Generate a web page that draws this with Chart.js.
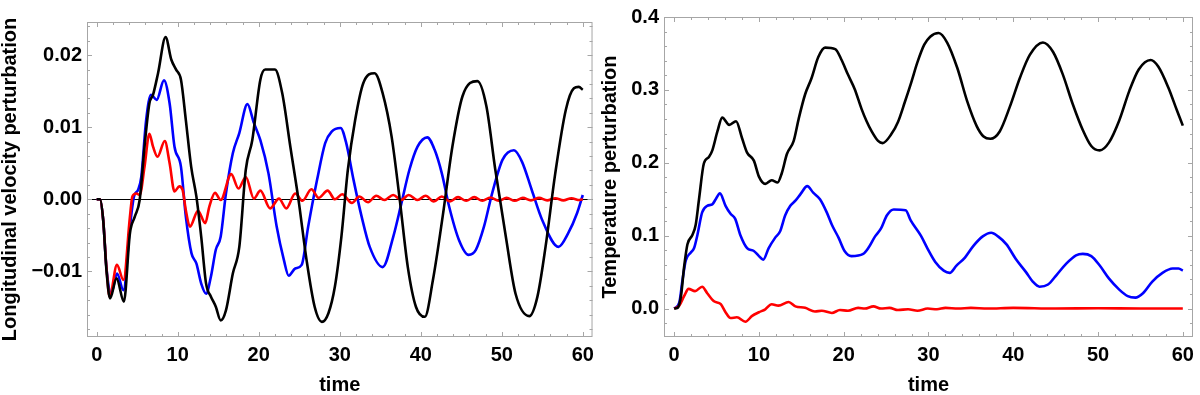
<!DOCTYPE html>
<html><head><meta charset="utf-8">
<script src="https://cdn.jsdelivr.net/npm/chart.js@4"></script>
<style>
html,body{margin:0;padding:0;background:#fff;}
#wrap{position:relative;width:1200px;height:395px;overflow:hidden;background:#fff;}
canvas{position:absolute;top:0;}
</style></head><body>
<div id="wrap">
<canvas id="left" width="600" height="395" style="left:0"></canvas>
<canvas id="right" width="600" height="395" style="left:600px"></canvas>
</div>
<script>
// ---- text ----
const xTitle = 'time';
const leftYTitle = 'Longitudinal velocity perturbation';
const rightYTitle = 'Temperature perturbation';
// ---- tick labels ----
const xTicks = [0, 10, 20, 30, 40, 50, 60];
const leftYTicks = [-0.01, 0, 0.01, 0.02];
const rightYTicks = [0, 0.1, 0.2, 0.3, 0.4];

// ---- left panel: longitudinal velocity perturbation ----
const lvBlackT = [0,0.4,0.8,1.2,1.64,2.45,3.35,4.1,4.7,5.3,5.9,6.5,6.95,7.57,8.5,9.2,9.8,10.4,11.0,11.66,12.3,12.9,13.5,14.1,14.7,15.3,15.95,16.8,17.6,18.4,19.2,20.2,20.8,22.0,22.9,23.9,24.9,25.9,26.9,27.8,28.6,29.4,30.2,31.0,31.9,32.9,34.3,35.3,36.4,37.4,38.4,39.4,40.5,41.5,42.7,43.9,45.15,47.0,48.1,49.2,50.5,51.7,53.4,54.4,55.4,56.6,57.9,58.9,59.5,60.0];
const lvBlackV = [0,0,-0.0029,-0.0098,-0.01375,-0.01097,-0.0142,-0.0047,-0.0024,-0.0001,0.0073,0.0133,0.0145,0.0175,0.0225,0.0194,0.018,0.0166,0.011,0.0045,0.0004,-0.0052,-0.0117,-0.0135,-0.0149,-0.0168,-0.0154,-0.0103,-0.0066,0.0041,0.0082,0.0166,0.018,0.018,0.0147,0.0073,0,-0.0084,-0.0149,-0.017,-0.0158,-0.0121,-0.0052,0.0041,0.011,0.0161,0.0175,0.0147,0.0087,0,-0.0094,-0.0149,-0.0163,-0.0112,-0.0024,0.0073,0.0143,0.0164,0.0129,0.0041,-0.0052,-0.0131,-0.0162,-0.0135,-0.0066,0.0036,0.0124,0.0154,0.0156,0.0152];

const lvBlueT = [0,0.4,0.8,1.2,1.8,2.5,3.3,4.1,4.6,5.1,5.5,6.1,6.7,7.4,8.3,9.0,9.6,10.4,11.0,11.7,12.3,12.9,13.5,14.1,14.7,15.3,15.95,16.8,17.6,18.6,19.4,20.2,21.2,22.2,23.1,23.7,24.5,25.3,26.1,27.2,28.2,29.0,30.1,30.8,31.7,32.7,33.7,35.3,36.6,37.6,38.6,39.6,40.8,41.7,42.6,43.5,44.7,45.9,46.8,47.8,48.8,50.1,51.5,52.5,53.7,55.0,57.0,58.2,59.3,60.0];
const lvBlueV = [0,0,-0.0029,-0.0095,-0.013,-0.0103,-0.0126,-0.0038,0.0004,0.0013,0.0031,0.011,0.0145,0.0138,0.0165,0.0133,0.0073,0.0045,-0.0024,-0.0075,-0.0089,-0.0117,-0.0131,-0.0107,-0.007,-0.0052,0.0008,0.0064,0.0092,0.0132,0.0106,0.0082,0.0036,-0.0037,-0.0084,-0.0106,-0.0096,-0.0091,-0.0038,0.0027,0.0078,0.0094,0.0099,0.0078,0.0027,-0.0024,-0.0066,-0.0094,-0.0052,-0.0006,0.0041,0.0073,0.0086,0.0069,0.0036,-0.001,-0.0056,-0.0077,-0.007,-0.0038,0.0008,0.0055,0.0068,0.0052,0.0013,-0.0029,-0.0066,-0.0047,-0.0019,0.0006];

const lvRedT = [0,0.4,0.8,1.2,1.6,2.5,3.3,4.1,4.4,4.9,5.3,5.9,6.5,6.95,7.5,8.4,9.0,9.6,10.2,10.6,11.0,11.5,12.5,13.4,13.9,14.6,15.3,16.6,17.5,18.4,19.4,20.2,21.4,22.5,23.4,24.5,25.4,26.5,27.4,28.5,29.4,30.3,31.5,32.4,33.5,34.5,35.5,36.6,37.6,38.5,39.6,40.6,41.6,42.6,43.6,44.6,45.6,46.6,47.6,48.6,49.6,50.6,51.6,52.6,53.6,54.6,55.6,56.6,57.6,58.6,59.6,60.0];
const lvRedV = [0,0,-0.0029,-0.0095,-0.0135,-0.0091,-0.0112,-0.0024,0.0004,0.0008,0.0006,0.0045,0.0091,0.0073,0.0059,0.0081,0.005,0.0011,0.0018,0.0013,-0.0015,-0.0038,-0.0016,-0.0033,-0.001,0.0009,-0.0001,0.0035,0.0015,0.0031,0.0001,0.0012,-0.00125,0.0001,-0.00125,0.0008,-0.0002,0.0014,0.0002,0.0012,0,0.0007,-0.0005,0.0004,-0.0004,0.0005,-0.0001,0.0006,-0.0001,0.0006,-0.0001,0.0005,-0.0003,0.0004,-0.0003,0.0003,-0.0002,0.0003,-0.0002,0.00025,-0.0002,0.0002,-0.0002,0.0002,-0.00015,0.0002,-0.00015,0.00015,-0.00015,0.00015,-0.0001,0];

// ---- right panel: temperature perturbation ----
const tpBlackT = [0,0.4,0.8,1.17,1.56,2.15,2.54,2.93,3.5,4.1,4.5,5.1,5.67,6.5,7.3,8.0,8.6,9.4,10.0,10.75,11.5,12.2,12.7,13.3,14.1,14.7,15.45,16.2,17.0,17.8,19.0,19.75,20.5,21.3,22.1,22.7,23.3,24.05,24.6,25.6,26.4,27.2,27.96,28.7,29.5,30.2,31.2,32.2,33.4,34.55,35.7,36.5,37.3,38.4,39.6,40.8,41.95,43.5,44.7,45.85,47.0,48.2,49.2,50.2,51.3,52.5,53.7,54.8,56.2,57.1,58.3,59.3,60.0];
const tpBlackV = [0,0.001,0.017,0.057,0.088,0.101,0.115,0.15,0.199,0.208,0.217,0.243,0.262,0.252,0.257,0.234,0.214,0.203,0.181,0.171,0.176,0.173,0.186,0.212,0.23,0.261,0.294,0.316,0.345,0.358,0.356,0.341,0.321,0.301,0.274,0.257,0.243,0.23,0.227,0.239,0.256,0.283,0.31,0.338,0.362,0.373,0.378,0.365,0.33,0.285,0.25,0.236,0.233,0.243,0.277,0.317,0.348,0.365,0.352,0.321,0.281,0.245,0.223,0.217,0.228,0.258,0.299,0.328,0.341,0.332,0.303,0.272,0.251];

const tpBlueT = [0,0.6,0.98,1.37,1.96,2.35,2.74,3.3,3.9,4.5,4.9,5.4,6.06,6.65,7.2,7.8,8.6,9.4,10.0,10.5,11.15,11.9,12.5,13.1,13.7,14.3,14.9,15.7,16.4,17.2,18.0,18.6,19.4,20.1,20.9,22.3,22.9,23.7,24.4,25.1,25.9,27.3,27.9,29.1,29.9,30.8,31.8,32.5,33.3,34.3,35.3,36.4,37.4,38.2,39.2,40.3,41.5,42.3,43.1,44.1,45.1,46.2,47.4,48.2,49.2,50.2,51.3,52.5,53.5,54.4,55.3,56.4,57.6,58.8,59.5,60.0];
const tpBlueV = [0,0.008,0.039,0.066,0.077,0.083,0.101,0.132,0.141,0.143,0.15,0.158,0.141,0.13,0.123,0.101,0.083,0.079,0.072,0.067,0.083,0.097,0.106,0.128,0.141,0.148,0.157,0.168,0.159,0.15,0.132,0.115,0.097,0.079,0.072,0.075,0.083,0.099,0.11,0.128,0.136,0.135,0.121,0.1,0.082,0.064,0.052,0.049,0.059,0.07,0.086,0.099,0.104,0.099,0.088,0.068,0.05,0.037,0.03,0.033,0.046,0.061,0.073,0.075,0.072,0.059,0.041,0.026,0.017,0.015,0.021,0.037,0.049,0.055,0.055,0.052];

const tpRedT = [0,0.6,1.17,1.7,2.46,3.3,3.9,4.7,5.5,6.06,6.65,7.4,8.4,9.2,10.0,10.75,11.5,12.3,13.5,14.3,15.45,16.6,17.4,18.6,19.55,20.5,21.7,22.5,23.5,24.4,25.4,26.4,27.6,28.7,29.9,31.0,32.0,33.5,35.0,37.0,40.0,45.0,50.0,55.0,60.0];
const tpRedV = [0,0.004,0.017,0.027,0.024,0.03,0.021,0.01,0.006,-0.005,-0.013,-0.012,-0.018,-0.01,-0.005,-0.001,0.006,0.004,0.009,0.003,0.001,-0.004,-0.003,-0.006,-0.002,-0.003,0.001,0,0.003,0,0.001,-0.002,-0.001,-0.003,0,-0.001,0.001,0,0.001,0,0.001,0,0.0005,0,0];

// ---- helpers ----
const FONT = '"Liberation Sans", Arial, Helvetica, sans-serif';
const pts = (T, V) => T.map((t, i) => ({x: t, y: V[i]}));
function range(a, b, s) { const r = []; for (let v = a; v <= b + s * 1e-6; v += s) r.push(+v.toFixed(6)); return r; }

const frameTicks = {
  id: 'frameTicks',
  beforeDatasetsDraw(chart, args, o) {
    const {ctx, chartArea: {left, right, top, bottom}, scales: {x, y}} = chart;
    ctx.save();
    if (o.zeroLine) {
      const py = Math.round(y.getPixelForValue(0)) + 0.5;
      ctx.strokeStyle = '#000'; ctx.lineWidth = 1;
      ctx.beginPath(); ctx.moveTo(left, py); ctx.lineTo(right, py); ctx.stroke();
    }
    ctx.strokeStyle = '#a6a6a6'; ctx.lineWidth = 1;
    ctx.beginPath();
    const xt = (vals, len) => vals.forEach(v => {
      const px = Math.round(x.getPixelForValue(v)) + 0.5;
      if (px < left || px > right) return;
      ctx.moveTo(px, bottom); ctx.lineTo(px, bottom - len);
      ctx.moveTo(px, top); ctx.lineTo(px, top + len);
    });
    const yt = (vals, len) => vals.forEach(v => {
      const py = Math.round(y.getPixelForValue(v)) + 0.5;
      if (py < top || py > bottom) return;
      ctx.moveTo(left, py); ctx.lineTo(left + len, py);
      ctx.moveTo(right, py); ctx.lineTo(right - len, py);
    });
    xt(o.xMajor, 5); xt(o.xMinor, 3); yt(o.yMajor, 5); yt(o.yMinor, 3);
    ctx.stroke();
    ctx.strokeRect(left + 0.5, top + 0.5, right - left - 1, bottom - top - 1);
    ctx.restore();
  }
};

function makeChart(id, cfg) {
  const tickFont = {family: FONT, size: 20, weight: 'bold'};
  return new Chart(document.getElementById(id), {
    type: 'line',
    data: {datasets: cfg.series.map(s => ({
      data: pts(s.t, s.v), borderColor: s.color, borderWidth: 2.6,
      pointRadius: 0, fill: false, cubicInterpolationMode: 'monotone'
    }))},
    options: {
      responsive: false, animation: false, devicePixelRatio: 1,
      layout: {padding: cfg.padding},
      plugins: {legend: {display: false}, tooltip: {enabled: false},
        frameTicks: {zeroLine: cfg.zeroLine, xMajor: xTicks, xMinor: range(2, 58, 2).filter(v => v % 10),
          yMajor: cfg.yTicks, yMinor: cfg.yMinor}},
      scales: {
        x: {type: 'linear', min: -1.2, max: 61.2,
          afterBuildTicks: s => { s.ticks = xTicks.map(v => ({value: v})); },
          afterFit: s => { s.height = 58; },
          grid: {display: false, drawTicks: false}, border: {display: false},
          ticks: {font: tickFont, color: '#000', padding: 6, maxRotation: 0, autoSkip: false, callback: v => String(v)},
          title: {display: true, text: xTitle, font: {family: FONT, size: 20, weight: 'bold', lineHeight: 1}, color: '#000', padding: {top: 0, bottom: 0}}
        },
        y: {type: 'linear', min: cfg.yMin, max: cfg.yMax,
          afterBuildTicks: s => { s.ticks = cfg.yTicks.map(v => ({value: v})); },
          afterFit: s => { s.width = cfg.yWidth; },
          grid: {display: false, drawTicks: false}, border: {display: false},
          ticks: {font: tickFont, color: '#000', padding: 5, autoSkip: false,
            callback: v => (v < 0 ? '\u2212' : '') + Math.abs(v).toFixed(cfg.dec)},
          title: {display: true, text: cfg.yTitle, font: {family: FONT, size: 20, weight: 'bold', lineHeight: 1}, color: '#000', padding: {top: 0, bottom: 0}}
        }
      }
    },
    plugins: [frameTicks]
  });
}

// dataset index 0 is drawn on top
makeChart('left', {
  padding: {top: 22, right: 4, left: 0, bottom: 0}, yWidth: 87, zeroLine: true,
  yMin: -0.0191, yMax: 0.0246, yTicks: leftYTicks, yMinor: range(-0.018, 0.024, 0.002).filter(v => Math.abs(v * 100 - Math.round(v * 100)) > 1e-6),
  dec: 2, yTitle: leftYTitle,
  series: [
    {t: lvBlackT, v: lvBlackV, color: '#000000'},
    {t: lvRedT, v: lvRedV, color: '#ff0000'},
    {t: lvBlueT, v: lvBlueV, color: '#0000ff'}
  ]
});

makeChart('right', {
  padding: {top: 7, right: 3, left: 0, bottom: 0}, yWidth: 64, zeroLine: false,
  yMin: -0.039, yMax: 0.4, yTicks: rightYTicks, yMinor: range(-0.02, 0.38, 0.02).filter(v => Math.abs(v * 10 - Math.round(v * 10)) > 1e-6),
  dec: 1, yTitle: rightYTitle,
  series: [
    {t: tpBlackT, v: tpBlackV, color: '#000000'},
    {t: tpRedT, v: tpRedV, color: '#ff0000'},
    {t: tpBlueT, v: tpBlueV, color: '#0000ff'}
  ]
});
</script>
</body></html>
